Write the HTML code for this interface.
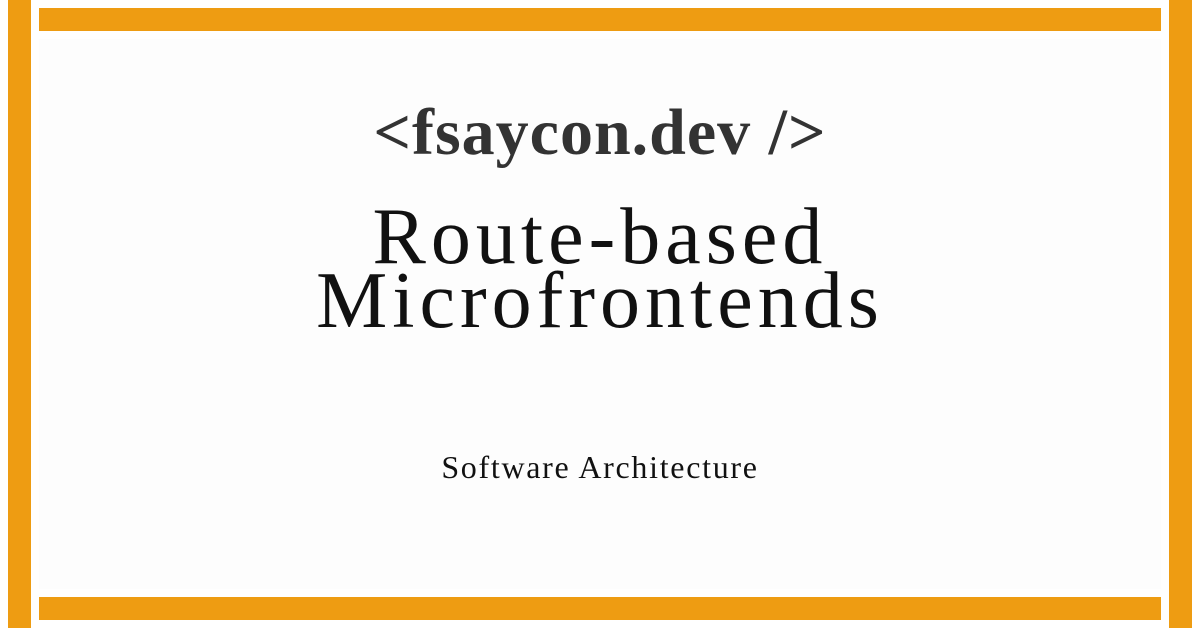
<!DOCTYPE html>
<html><head><style>
body{margin:0;width:1200px;height:628px;background:#fff;position:relative;overflow:hidden;font-family:"Liberation Serif",serif;color:#111}
.b{position:absolute;background:#ee9c12}
.t{position:absolute;left:0;width:1200px;text-align:center;white-space:nowrap}
</style></head><body>
<div class="b" style="left:8px;top:0;width:23px;height:628px"></div>
<div class="b" style="left:1169px;top:0;width:23px;height:628px"></div>
<div class="b" style="left:39px;top:8px;width:1122px;height:23px"></div>
<div class="b" style="left:39px;top:597px;width:1122px;height:23px"></div>
<div style="position:absolute;left:39px;top:39px;width:1122px;height:550px;background:#fdfdfd"></div>
<div class="t" style="top:98px;font-size:66px;line-height:70px;color:#333;font-weight:bold;letter-spacing:1px">&lt;fsaycon.dev /&gt;</div>
<div class="t" style="top:205px;font-size:80px;line-height:64px;color:#111;letter-spacing:5px">Route-based<br>Microfrontends</div>
<div class="t" style="top:449px;font-size:32px;line-height:36px;color:#111;letter-spacing:1.7px">Software Architecture</div>
</body></html>
